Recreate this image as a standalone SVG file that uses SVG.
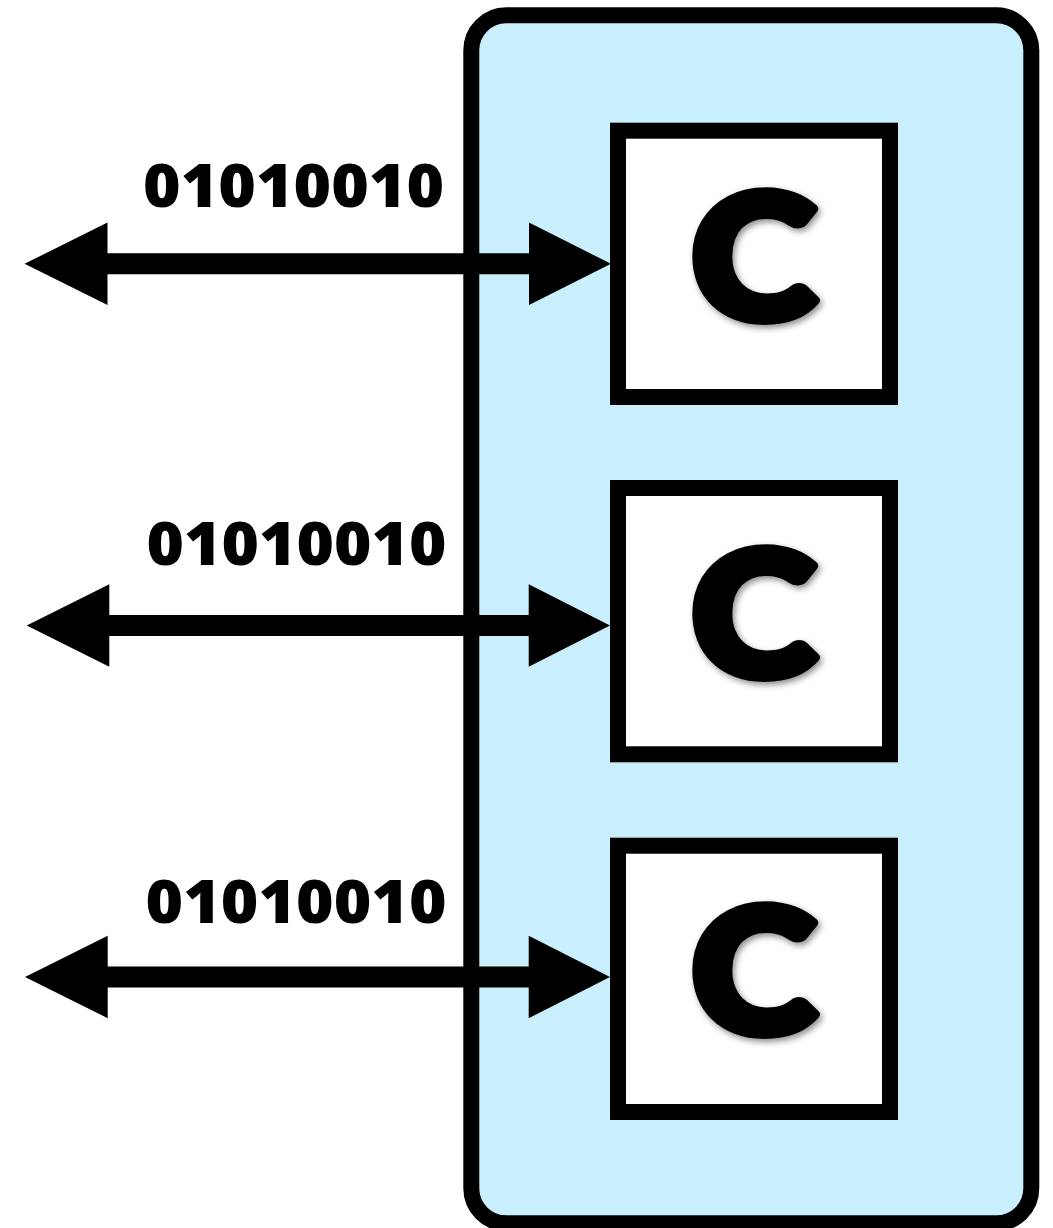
<svg xmlns="http://www.w3.org/2000/svg" width="1053" height="1228" viewBox="0 0 1053 1228">
  <defs>
    <filter id="shadow" x="-30%" y="-30%" width="160%" height="160%">
      <feDropShadow dx="2" dy="3" stdDeviation="3" flood-color="#000" flood-opacity="0.45"/>
    </filter>
    <style>
      .container { fill: #c9eefc; stroke: #000; stroke-width: 16; }
      .box { fill: #fff; stroke: #000; stroke-width: 16; }
      .arrow { fill: #000; }
      .bits { font-family: "Open Sans", "DejaVu Sans", sans-serif; font-weight: 800; font-size: 60px; fill: #000; }
      .letter { font-family: Lato, "Open Sans", sans-serif; font-weight: 900; font-size: 172px; fill: #000; stroke: #000; stroke-width: 10; stroke-linejoin: round; text-anchor: middle; }
    </style>
  </defs>
  <rect width="1053" height="1228" fill="#fff"/>

  <g id="container">
    <rect class="container" x="471.3" y="15.3" width="560" height="1208" rx="35" ry="35"/>
  </g>

  <g id="connectors">
    <polygon class="arrow" points="24.5,263.8 107.5,222.6 107.5,253.3 529,253.3 529,222.6 611,263.8 529,305 529,274.3 107.5,274.3 107.5,305"/>
    <polygon class="arrow" points="26.7,625.5 109.3,584.3 109.3,615 528.7,615 528.7,584.3 610,625.5 528.7,666.7 528.7,636 109.3,636 109.3,666.7"/>
    <polygon class="arrow" points="25,977 107.7,935.8 107.7,966.5 528.7,966.5 528.7,935.8 610,977 528.7,1018.2 528.7,987.5 107.7,987.5 107.7,1018.2"/>
  </g>

  <g id="label1">
    <text class="bits" x="143" y="207" textLength="301" lengthAdjust="spacingAndGlyphs">01010010</text>
  </g>
  <g id="label2">
    <text class="bits" x="146.5" y="565" textLength="300" lengthAdjust="spacingAndGlyphs">01010010</text>
  </g>
  <g id="label3">
    <text class="bits" x="145.5" y="922.5" textLength="301" lengthAdjust="spacingAndGlyphs">01010010</text>
  </g>

  <g id="node1">
    <rect class="box" x="618" y="130.7" width="272" height="266.3"/>
    <text class="letter" transform="translate(753.5,318.5) scale(1.1,1)" filter="url(#shadow)">C</text>
  </g>
  <g id="node2">
    <rect class="box" x="618" y="488" width="272" height="266.3"/>
    <text class="letter" transform="translate(753.5,676) scale(1.1,1)" filter="url(#shadow)">C</text>
  </g>
  <g id="node3">
    <rect class="box" x="618" y="845.7" width="272" height="266.3"/>
    <text class="letter" transform="translate(753.5,1033) scale(1.1,1)" filter="url(#shadow)">C</text>
  </g>
</svg>
